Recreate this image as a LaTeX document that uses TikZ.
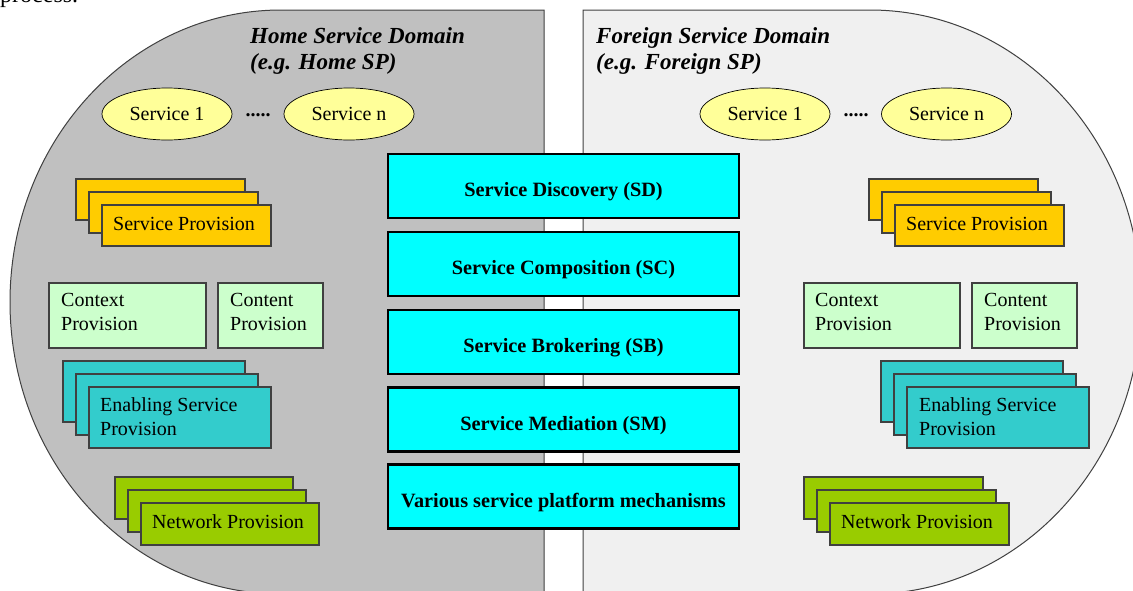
\documentclass[tikz,border=0pt]{standalone}
\usepackage{fontspec}
\setmainfont{Liberation Serif}
\usetikzlibrary{shapes.geometric}
\definecolor{homegray}{HTML}{C0C0C0}
\definecolor{forgray}{HTML}{F0F0F0}
\definecolor{edgegray}{HTML}{404040}
\definecolor{svcyellow}{HTML}{FFFF99}
\definecolor{provorange}{HTML}{FFCC00}
\definecolor{ctxgreen}{HTML}{CCFFCC}
\definecolor{enteal}{HTML}{33CCCC}
\definecolor{netgreen}{HTML}{99CC00}
\definecolor{mechcyan}{HTML}{00FFFF}
\newcommand\cardstack[7]{% name, x, y, w, h, colour, text (single line)
  \draw[card, fill=#6] (#2,#3) rectangle ++(#4,#5);
  \draw[card, fill=#6] ({#2+13},{#3+13}) rectangle ++(#4,#5);
  \draw[card, fill=#6] ({#2+26},{#3+26}) rectangle ++(#4,#5);
}
\begin{document}
\begin{tikzpicture}[x=1pt,y=-1pt,
  txt/.style={font=\fontsize{20}{24}\selectfont, inner sep=0pt},
  domainshape/.style={draw=edgegray, line width=1pt},
  layerbox/.style={draw=black, line width=2.2pt, fill=mechcyan, minimum width=351pt, minimum height=64pt, font=\fontsize{20.3}{24}\selectfont\bfseries, inner sep=0pt, text height=21pt, text depth=0pt},
  svc/.style={ellipse, draw=black, line width=0.7pt, fill=svcyellow, minimum width=130pt, minimum height=52pt, inner sep=0pt, font=\fontsize{20}{24}\selectfont},
  card/.style={draw=edgegray, line width=1.1pt},
  title/.style={font=\fontsize{23}{26}\selectfont\bfseries\itshape, align=left, anchor=north west, inner sep=0pt},
  dots/.style={font=\fontsize{20}{24}\selectfont\bfseries, inner sep=0pt, anchor=base}
]
\useasboundingbox (0,0) rectangle (1133,590);

% stray text from the page above
\node[font=\fontsize{24}{28}\selectfont, inner sep=0pt, anchor=base west] (proc) at (0,2) {process.};

% domains
\draw[domainshape, fill=homegray] (544,10) -- (281,10)
  .. controls (131.3,10) and (10,140.7) .. (10,302)
  .. controls (10,463.3) and (131.3,594) .. (281,594) -- (544,594) -- cycle;
\draw[domainshape, fill=forgray] (583,10) -- (870,10)
  .. controls (1019.7,10) and (1141,140.7) .. (1141,302)
  .. controls (1141,463.3) and (1019.7,594) .. (870,594) -- (583,594) -- cycle;

\node[title] (homet) at (250,27) {Home Service Domain\\(e.g. Home SP)};
\node[title] (fort) at (596,27) {Foreign Service Domain\\(e.g. Foreign SP)};

% services
\node[svc] (hs1) at (167,114) {Service 1};
\node[svc] (hsn) at (349,114) {Service n};
\node[dots] (hdots) at (258,116.5) {.....};
\node[svc] (fs1) at (765,114) {Service 1};
\node[svc] (fsn) at (946.5,114) {Service n};
\node[dots] (fdots) at (856,116.5) {.....};

% service provision
\cardstack{hsp}{76}{179}{169}{41}{provorange}{}
\node[txt, anchor=base west] (hspt) at (113,230) {Service Provision};
\cardstack{fsp}{869}{179}{169}{41}{provorange}{}
\node[txt, anchor=base west] (fspt) at (906,230) {Service Provision};

% context / content
\draw[card, fill=ctxgreen] (49,283) rectangle (206,348);
\node[txt, anchor=north west, align=left] (hctx) at (61,293.5) {Context\\Provision};
\draw[card, fill=ctxgreen] (218,283) rectangle (323,348);
\node[txt, anchor=north west, align=left] (hcnt) at (230,293.5) {Content\\Provision};
\draw[card, fill=ctxgreen] (804,283) rectangle (960,348);
\node[txt, anchor=north west, align=left] (fctx) at (815,293.5) {Context\\Provision};
\draw[card, fill=ctxgreen] (972,283) rectangle (1077,348);
\node[txt, anchor=north west, align=left] (fcnt) at (984,293.5) {Content\\Provision};

% enabling service provision
\cardstack{hesp}{63}{361}{182}{61}{enteal}{}
\node[txt, anchor=north west, align=left] (hespt) at (100,397) {Enabling Service\\Provision};
\cardstack{fesp}{881}{361}{182}{61}{enteal}{}
\node[txt, anchor=north west, align=left] (fespt) at (919,397) {Enabling Service\\Provision};

% network provision
\cardstack{hnp}{115}{477}{178}{42}{netgreen}{}
\node[txt, anchor=base west] (hnpt) at (152,528) {Network Provision};
\cardstack{fnp}{804}{477}{179}{42}{netgreen}{}
\node[txt, anchor=base west] (fnpt) at (841,528) {Network Provision};

% central layers
\node[layerbox] (sd) at (563.5,186) {Service Discovery (SD)};
\node[layerbox] (sc) at (563.5,264) {Service Composition (SC)};
\node[layerbox] (sb) at (563.5,342) {Service Brokering (SB)};
\node[layerbox] (sm) at (563.5,419.5) {Service Mediation (SM)};
\node[layerbox] (vm) at (563.5,496.5) {Various service platform mechanisms};
\end{tikzpicture}
\end{document}
